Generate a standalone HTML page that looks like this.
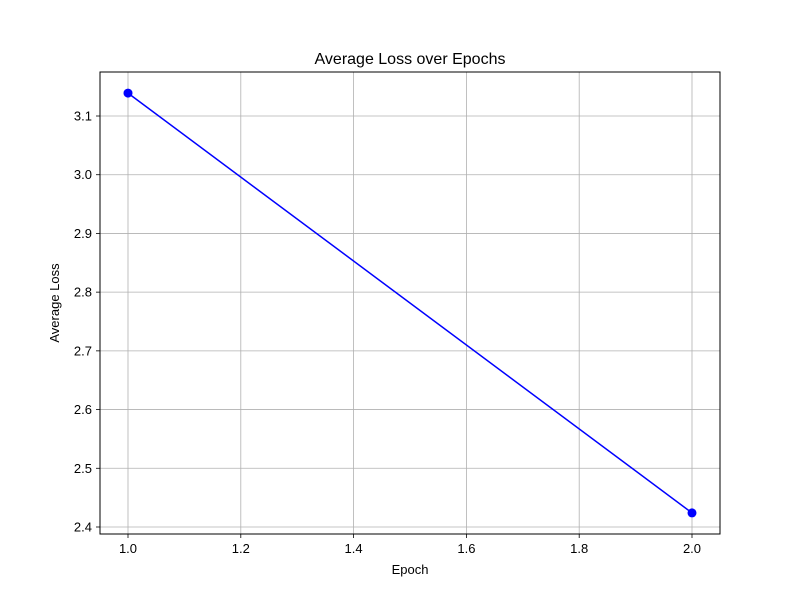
<!DOCTYPE html>
<html><head><meta charset="utf-8"><style>
body{margin:0;background:#fff;}
svg text{font-family:"Liberation Sans","DejaVu Sans",sans-serif;}
</style></head><body>
<svg id="chart" width="800" height="600" xmlns="http://www.w3.org/2000/svg">
<rect width="800" height="600" fill="#fff"/>
<g id="grid"></g>
<g id="ticks"></g>
<g id="series"></g>
<rect x="100" y="72" width="620" height="462" fill="none" stroke="#000" stroke-width="1"/>
<text x="410" y="64" text-anchor="middle" font-size="16">Average Loss over Epochs</text>
<text x="410" y="574" text-anchor="middle" font-size="13">Epoch</text>
<text x="0" y="0" transform="translate(59,303) rotate(-90)" text-anchor="middle" font-size="13">Average Loss</text>
</svg>
<script>
const epochs = [1.0, 2.0];
const losses = [3.139, 2.424];
const xTicks = [1.0, 1.2, 1.4, 1.6, 1.8, 2.0];
const yTicks = [2.4, 2.5, 2.6, 2.7, 2.8, 2.9, 3.0, 3.1];
const NS = "http://www.w3.org/2000/svg";
function xs(v){return 128 + (v - 1.0) * 564;}
function ys(v){return 527 - (v - 2.4) * 587.14;}
function mk(tag, attrs, parent){const e=document.createElementNS(NS,tag);for(const k in attrs)e.setAttribute(k,attrs[k]);parent.appendChild(e);return e;}
const grid=document.getElementById('grid'), ticks=document.getElementById('ticks'), series=document.getElementById('series');
xTicks.forEach(t=>{
  const x=xs(t);
  const g=mk('line',{x1:x,x2:x,y1:72,y2:534,stroke:'#b0b0b0','stroke-width':0.8},grid);
  
  
  mk('line',{x1:x,x2:x,y1:534,y2:538,stroke:'#000','stroke-width':0.8},ticks);
  const l=mk('text',{x:x,y:553,'text-anchor':'middle','font-size':13},ticks);
  l.textContent=t.toFixed(1);
  
  
});
yTicks.forEach(t=>{
  const y=ys(t);
  const g=mk('line',{x1:100,x2:720,y1:y,y2:y,stroke:'#b0b0b0','stroke-width':0.8},grid);
  
  
  mk('line',{x1:96,x2:100,y1:y,y2:y,stroke:'#000','stroke-width':0.8},ticks);
  const l=mk('text',{x:92,y:y+4.5,'text-anchor':'end','font-size':13},ticks);
  l.textContent=t.toFixed(1);
  
  
});
const pts=epochs.map((e,i)=>xs(e)+','+ys(losses[i])).join(' ');
const line=mk('polyline',{points:pts,fill:'none',stroke:'#0000ff','stroke-width':1.5},series);


epochs.forEach((e,i)=>{
  const c=mk('circle',{cx:xs(e),cy:ys(losses[i]),r:4.5,fill:'#0000ff'},series);
  
  
});
</script>
</body></html>
